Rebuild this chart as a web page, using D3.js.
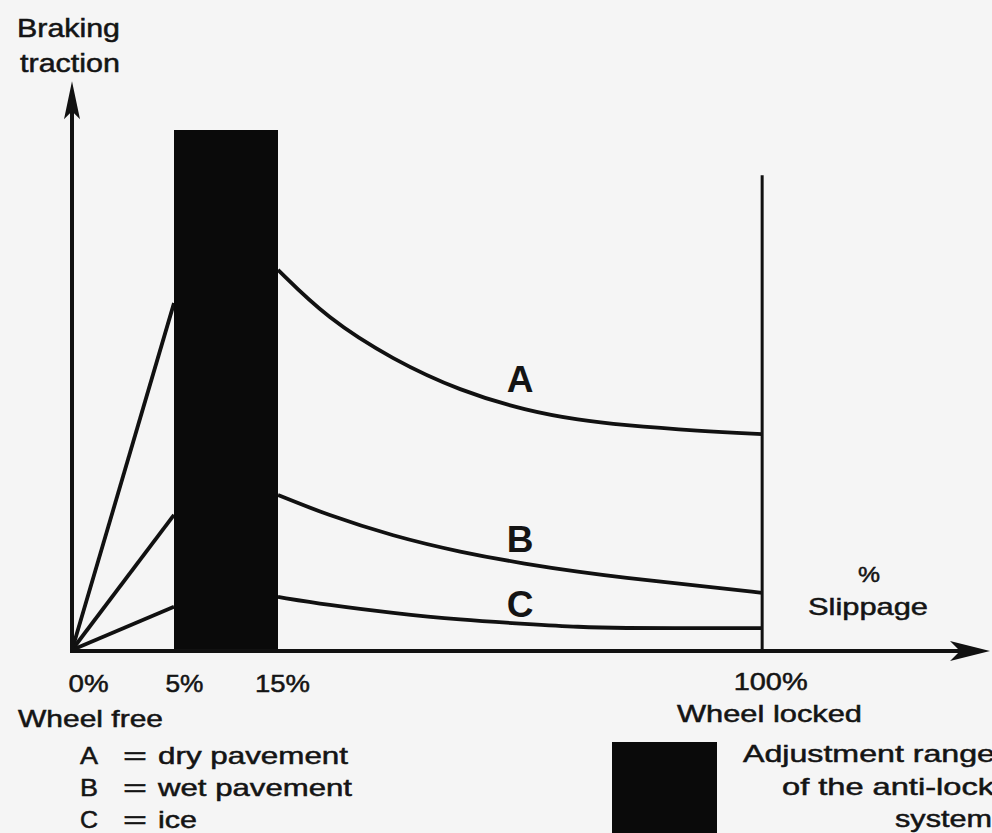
<!DOCTYPE html>
<html>
<head>
<meta charset="utf-8">
<script src="https://cdn.jsdelivr.net/npm/d3@7"></script>
<style>
  body { margin: 0; background: #f5f5f5; }
  svg { display: block; }
  text { font-family: "Liberation Sans", Arial, sans-serif; fill: #141414; stroke: #141414; stroke-width: 0.5px; }
</style>
</head>
<body>
<svg id="chart"></svg>
<script>
const width = 992, height = 833;

// slippage (%) at which the curves are sampled
const risePct = [0, 5];
const decayPct = [15, 23.6, 35.2, 47, 58.7, 68, 75.1, 89.1, 100];

// braking traction (relative units) for each road surface
const riseA = [0, 66.7],
      decayA = [73.1, 63.8, 55.8, 49.8, 46.0, 44.2, 43.3, 42.1, 41.5];
const riseB = [0, 26.0],
      decayB = [29.8, 26.0, 21.9, 18.8, 16.5, 15.0, 14.0, 12.3, 11.0];
const riseC = [0, 8.3],
      decayC = [10.2, 8.7, 7.1, 5.8, 5.0, 4.4, 4.2, 4.2, 4.2];

const curveKeys = ["A", "B", "C"];
const labelPct = [57.5, 57.5, 57.5];
const labelTraction = [49.6, 18.8, 6.3];

const tickPct = [0, 5, 15, 100];
const tickLabels = ["0%", "5%", "15%", "100%"];

// adjustment range of the anti-lock system (% slippage)
const absRange = [5, 15];
const lockedPct = 100;

const legendKeys = ["A", "B", "C"];
const legendText = ["dry pavement", "wet pavement", "ice"];
const legendWidths = [190, 194, 39];

// x is piecewise: the 0-15% part is drawn wider than the rest
let x = d3.scaleLinear()
          .domain([0, 5, 15, 140])
          .range([72, 174, 278, 990]);
let y = d3.scaleLinear()
          .domain([0, 100])
          .range([650, 130]);

let svg = d3.select("#chart")
            .attr("width", width)
            .attr("height", height);

function stretch(sel, w) {
  return sel.attr("textLength", w).attr("lengthAdjust", "spacingAndGlyphs");
}

function label(txt, px, py, w, size) {
  return stretch(svg.append("text")
                    .attr("x", px)
                    .attr("y", py)
                    .style("font-size", (size || 24) + "px")
                    .text(txt), w);
}

let series = [
  {key: "A", rise: riseA, decay: decayA},
  {key: "B", rise: riseB, decay: decayB},
  {key: "C", rise: riseC, decay: decayC}
];

let riseLine = d3.line()
                 .x((d, i) => x(risePct[i]))
                 .y(d => y(d));
let decayLine = d3.line()
                  .x((d, i) => x(decayPct[i]))
                  .y(d => y(d))
                  .curve(d3.curveBasis);

// Curves
let curves = svg.append("g")
                .attr("fill", "none")
                .attr("stroke", "#111")
                .attr("stroke-width", 3.8)
                .attr("stroke-linejoin", "round");
curves.selectAll(".rise")
      .data(series)
      .enter().append("path")
      .attr("class", "rise")
      .attr("d", d => riseLine(d.rise));
curves.selectAll(".decay")
      .data(series)
      .enter().append("path")
      .attr("class", "decay")
      .attr("d", d => decayLine(d.decay));

// Anti-lock adjustment range
svg.append("rect")
   .attr("x", x(absRange[0]))
   .attr("y", y(100))
   .attr("width", x(absRange[1]) - x(absRange[0]))
   .attr("height", y(0) - y(100))
   .attr("fill", "#0a0a0a");

// Wheel locked line
svg.append("line")
   .attr("x1", x(lockedPct))
   .attr("x2", x(lockedPct))
   .attr("y1", y(0))
   .attr("y2", y(91.3))
   .attr("stroke", "#111")
   .attr("stroke-width", 3);

// Axes with arrow heads
let x0 = x(0), y0 = y(0), yTop = y(109), xEnd = x(140);
svg.append("line")
   .attr("x1", x0).attr("x2", x0)
   .attr("y1", y0 + 2).attr("y2", yTop + 10)
   .attr("stroke", "#111").attr("stroke-width", 4);
svg.append("path")
   .attr("d", "M" + x0 + "," + (yTop - 2) + "L" + (x0 - 8) + "," + (yTop + 36) +
              "L" + x0 + "," + (yTop + 28) + "L" + (x0 + 8) + "," + (yTop + 36) + "Z")
   .attr("fill", "#111");
svg.append("line")
   .attr("x1", x0 - 2).attr("x2", xEnd - 12)
   .attr("y1", y0 + 1).attr("y2", y0 + 1)
   .attr("stroke", "#111").attr("stroke-width", 4);
svg.append("path")
   .attr("d", "M" + xEnd + "," + (y0 + 1) + "L" + (xEnd - 40) + "," + (y0 - 9) +
              "L" + (xEnd - 30) + "," + (y0 + 1) + "L" + (xEnd - 40) + "," + (y0 + 11) + "Z")
   .attr("fill", "#111");

// Tick labels
let xAxis = d3.axisBottom(x)
              .tickValues(tickPct)
              .tickFormat((d, i) => tickLabels[i])
              .tickSize(0)
              .tickPadding(25);
let ax = svg.append("g")
            .attr("transform", "translate(0," + y0 + ")")
            .call(xAxis);
ax.select(".domain").remove();
let tickDx = [16, 10, 4, 8], tickW = [40, 38, 55, 74];
ax.selectAll("text")
  .attr("fill", "#141414")
  .style("font-family", "'Liberation Sans', Arial, sans-serif")
  .style("font-size", "24px")
  .attr("dx", (d, i) => tickDx[i])
  .attr("y", (d, i) => i === 3 ? 23 : 25)
  .each(function(d, i) { stretch(d3.select(this), tickW[i]); });

// Curve labels
svg.selectAll(".curve-label")
   .data(curveKeys)
   .enter().append("text")
   .attr("class", "curve-label")
   .attr("x", (d, i) => x(labelPct[i]))
   .attr("y", (d, i) => y(labelTraction[i]))
   .attr("text-anchor", "middle")
   .style("font-size", "37px")
   .style("font-weight", "bold")
   .style("stroke-width", "0")
   .text(d => d);

// Axis titles
label("Braking", 17, 37, 103, 25);
label("traction", 20, 72, 100, 25);
label("%", 858, 582, 22, 22);
label("Slippage", 808, 615, 120);
label("Wheel free", 18, 727, 145);
label("Wheel locked", 677, 722, 185);

// Legend: surfaces
legendKeys.forEach((k, i) => {
  let by = 764 + i * 32;
  label(k, 80, by, 18);
  label("=", 123, by, 24);
  label(legendText[i], 158, by, legendWidths[i]);
});

// Legend: anti-lock range
svg.append("rect")
   .attr("x", 612)
   .attr("y", 742)
   .attr("width", 105)
   .attr("height", 100)
   .attr("fill", "#0a0a0a");
label("Adjustment range", 743, 762, 252);
label("of the anti-lock", 782, 795, 212);
label("system", 895, 827, 97);
</script>
</body>
</html>
